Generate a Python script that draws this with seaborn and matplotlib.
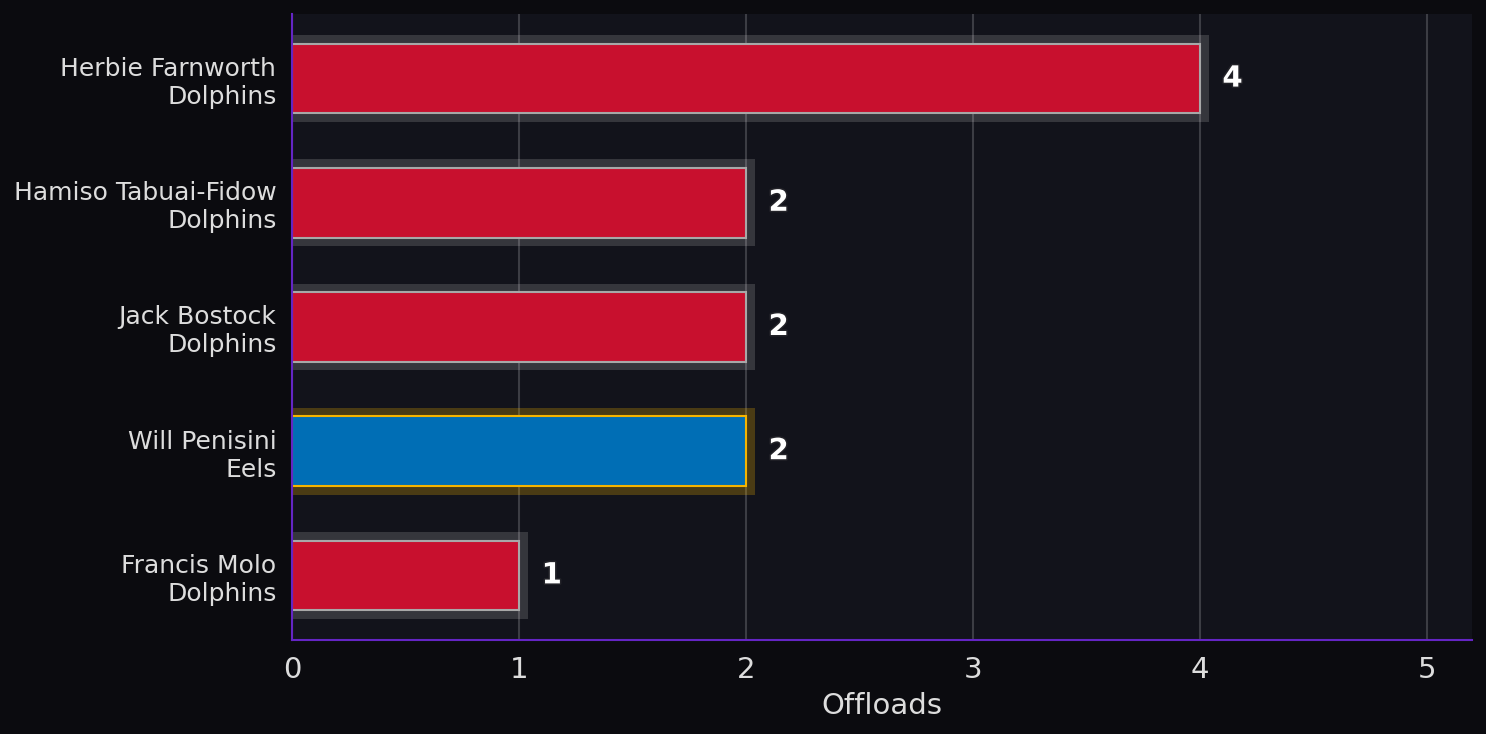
import numpy as np
import pandas as pd
import matplotlib
matplotlib.use("Agg")
import matplotlib.pyplot as plt
import matplotlib.patheffects as pe
import seaborn as sns

# data
players = ["Herbie Farnworth", "Hamiso Tabuai-Fidow", "Jack Bostock", "Will Penisini", "Francis Molo"]
teams = ["Dolphins", "Dolphins", "Dolphins", "Eels", "Dolphins"]
offloads = [4, 2, 2, 2, 1]
highlight = [False, False, False, True, False]

team_colors = {"Dolphins": "#c8102e", "Eels": "#006eb5"}

fig_bg = "#0b0b0f"
ax_bg = "#12131b"
spine_col = "#6425c4"
text_col = "#dddddd"

sns.set_theme(style="dark")
plt.rcParams["font.family"] = ["DejaVu Sans"]

df = pd.DataFrame({
    "label": [p + "\n" + t for p, t in zip(players, teams)],
    "team": teams,
    "offloads": offloads,
    "hl": highlight,
})

fig = plt.figure(figsize=(1486 / 150, 734 / 150), dpi=150, facecolor=fig_bg)
ax = fig.add_axes([292 / 1486, 1 - 640 / 734, 1180 / 1486, 626 / 734])
ax.set_facecolor(ax_bg)

# glow behind each bar
pos = np.arange(len(df))
glow_cols = [(0.96, 0.71, 0.0, 0.25) if h else (1, 1, 1, 0.15) for h in df["hl"]]
ax.barh(pos, df["offloads"] + 0.08, left=-0.04, height=0.7, color=glow_cols,
        linewidth=0, edgecolor="none", zorder=1)

sns.barplot(data=df, x="offloads", y="label", hue="label",
            palette=[team_colors[t] for t in df["team"]], saturation=1,
            orient="h", width=0.56, legend=False, ax=ax, zorder=2)

for patch, h in zip(ax.patches[len(df):], df["hl"]):
    patch.set_edgecolor("#f5b400" if h else "#a8a8a8")
    patch.set_linewidth(1.0)

for i, v in enumerate(df["offloads"]):
    ax.text(v + 0.1, i, str(v), color="white", fontsize=14, fontweight="bold",
            ha="left", va="center", zorder=4,
            path_effects=[pe.withStroke(linewidth=1.5, foreground="#222228")])

ax.set_xlim(0, 5.2)
ax.set_ylim(len(df) - 0.48, -0.52)
ax.set_xticks([0, 1, 2, 3, 4, 5])
ax.grid(axis="x", color="#3c3d44", linewidth=1.0, zorder=0)
ax.grid(axis="y", visible=False)
ax.set_axisbelow(True)

ax.set_xlabel("Offloads", color=text_col, fontsize=14, labelpad=4)
ax.set_ylabel("")
ax.tick_params(axis="x", colors=text_col, labelsize=14, length=4, width=1, color="#aaaaaa")
ax.tick_params(axis="y", colors=text_col, labelsize=12, length=4, width=1, color="#aaaaaa")

for side in ["top", "right"]:
    ax.spines[side].set_visible(False)
for side in ["left", "bottom"]:
    ax.spines[side].set_visible(True)
    ax.spines[side].set_color(spine_col)
    ax.spines[side].set_linewidth(1.0)

fig.savefig("out.png", dpi=150, facecolor=fig_bg)
